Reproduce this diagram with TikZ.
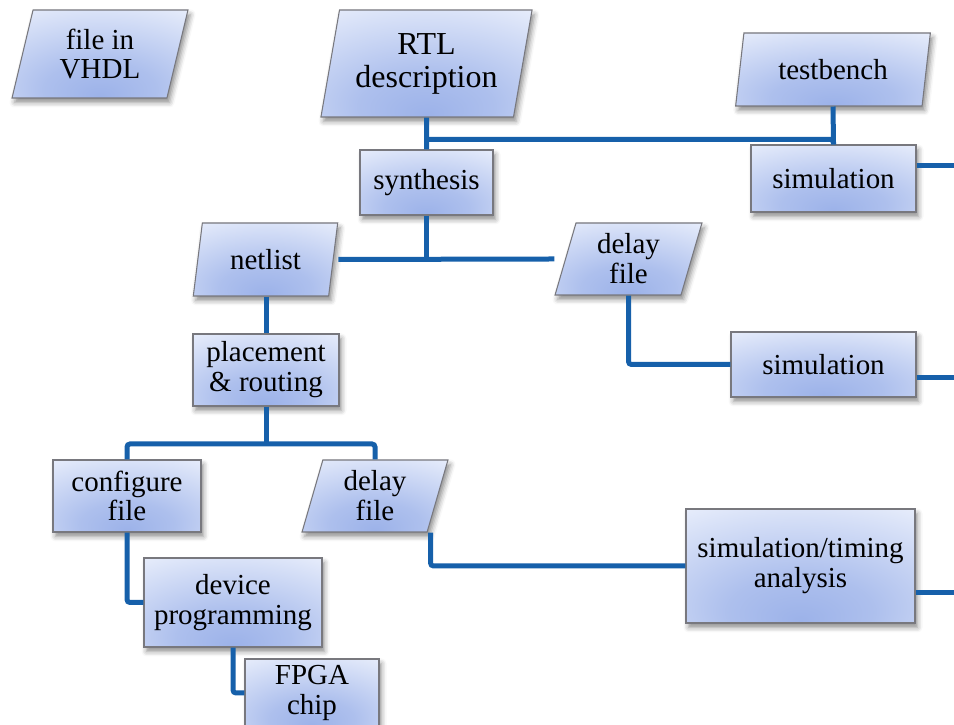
\documentclass[tikz,border=0pt]{standalone}
\usepackage{fontspec}
\setmainfont{Liberation Serif}
\usetikzlibrary{shapes.geometric,shadows.blur,calc}

\definecolor{glowmid}{RGB}{156,178,233}
\definecolor{glowedge}{RGB}{235,240,252}
\definecolor{linkblue}{RGB}{22,96,170}
\definecolor{rimgray}{RGB}{120,120,126}

% soft blue glow, strongest a little below the middle
\pgfdeclareradialshading{boxglow}{\pgfpoint{0bp}{-24bp}}{%
  color(0bp)=(glowmid); color(16bp)=(glowmid!78!glowedge);
  color(48bp)=(glowedge); color(100bp)=(glowedge)}

\tikzset{
  block/.style={draw=rimgray, line width=0.6pt, shade, shading=boxglow,
    blur shadow={shadow xshift=0.05cm, shadow yshift=-0.09cm,
      shadow blur radius=0.1cm, shadow opacity=45},
    align=center, inner sep=0pt, font=\fontsize{16.5}{17}\selectfont},
  stepbox/.style={block, rectangle},
  datafile/.style={block, trapezium, trapezium left angle=76,
    trapezium right angle=104, trapezium stretches},
  link/.style={draw=linkblue, line width=0.1cm, rounded corners=0.06cm}
}

\begin{document}
\begin{tikzpicture}
  \useasboundingbox (0, 0) rectangle (19.08, 14.5);
  \coordinate (rightedge) at (19.08, 0);

  % Files
  \node[datafile, minimum width=3.52cm, minimum height=1.76cm] (vhdl) at (2.00, 13.42) {file in\\VHDL};
  \node[datafile, minimum width=4.26cm, minimum height=2.14cm,
    font=\fontsize{18.2}{18.8}\selectfont] (rtl) at (8.53, 13.23) {RTL\\description};
  \node[datafile, minimum width=3.92cm, minimum height=1.46cm] (bench) at (16.66, 13.11) {testbench};
  \node[datafile, minimum width=2.90cm, minimum height=1.46cm] (netlist) at (5.31, 9.31) {netlist};
  \node[datafile, minimum width=2.94cm, minimum height=1.44cm] (delayA) at (12.57, 9.32) {delay\\file};
  \node[datafile, minimum width=2.92cm, minimum height=1.44cm] (delayB) at (7.50, 4.58) {delay\\file};

  % Tool steps
  \node[stepbox, minimum width=2.66cm, minimum height=1.30cm] (synth) at (8.53, 10.85) {synthesis};
  \node[stepbox, minimum width=3.30cm, minimum height=1.34cm] (simA) at (16.67, 10.93) {simulation};
  \node[stepbox, minimum width=3.70cm, minimum height=1.30cm] (simB) at (16.47, 7.21) {simulation};
  \node[stepbox, minimum width=2.92cm, minimum height=1.44cm] (place) at (5.32, 7.10) {placement\\\& routing};
  \node[stepbox, minimum width=2.96cm, minimum height=1.44cm] (config) at (2.54, 4.58) {configure\\file};
  \node[stepbox, minimum width=3.56cm, minimum height=1.78cm] (devprog) at (4.66, 2.45) {device\\programming};
  \node[stepbox, minimum width=2.68cm, minimum height=1.36cm] (fpga) at (6.24, 0.64) {FPGA\\chip};
  \node[stepbox, minimum width=4.58cm, minimum height=2.28cm] (simT) at (16.01, 3.18) {simulation/timing\\analysis};

  % RTL feeds synthesis and the first simulation
  \coordinate (busA) at ($(synth.north)+(0, 0.2)$);
  \draw[link] (rtl.south) -- (synth.north);
  \draw[link] (bench.south) -- (simA.north);
  \draw[link] (busA) -| (simA.north);

  % Synthesis results
  \draw[link] (synth.south) -- (synth.south |- netlist.east);
  \draw[link] (netlist.east -| netlist.top right corner) -- (delayA.west -| delayA.bottom left corner);
  \draw[link] (delayA.center |- delayA.south) |- (simB.west);
  \draw[link] (place.north |- netlist.south) -- (place.north);

  % Placement results
  \coordinate (forkB) at (5.32, 5.62);
  \draw[link] (place.south) -- (forkB);
  \draw[link] (config.north) |- (forkB) -| (delayB.center |- delayB.north);
  \draw[link] (config.south) |- (devprog.west);
  \draw[link] (devprog.south) |- (fpga.west);
  \draw[link] ([xshift=0.06cm]delayB.bottom right corner) |- (simT.west);

  % Outputs running off to the right
  \foreach \step/\dy in {simA/0.25, simB/-0.27, simT/-0.54} {
    \coordinate (\step out) at ($(\step.east)+(0, \dy)$);
    \draw[link] (\step out) -- (\step out -| rightedge);
  }
\end{tikzpicture}
\end{document}
